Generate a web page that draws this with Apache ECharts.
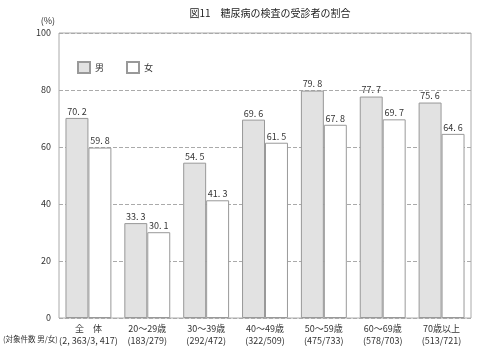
<!DOCTYPE html>
<html><head><meta charset="utf-8">
<script src="https://cdn.jsdelivr.net/npm/echarts@6/dist/echarts.min.js"></script>
<style>html,body{margin:0;padding:0;background:#fff}#c{width:483px;height:352px}</style>
</head><body><div id="c"></div>
<script>
const categories = ['全　体', '20～29歳', '30～39歳', '40～49歳', '50～59歳', '60～69歳', '70歳以上'];
const counts = ['(2, 363/3, 417)', '(183/279)', '(292/472)', '(322/509)', '(475/733)', '(578/703)', '(513/721)'];
const male = [70.2, 33.3, 54.5, 69.6, 79.8, 77.7, 75.6];
const female = [59.8, 30.1, 41.3, 61.5, 67.8, 69.7, 64.6];
const yTicks = [0, 20, 40, 60, 80, 100];

const F = '"Noto Sans CJK JP", sans-serif';
const chart = echarts.init(document.getElementById('c'));
const lbl = {show: true, position: 'top', distance: 2, fontSize: 9, color: '#333', fontFamily: F,
  formatter: p => p.value.toFixed(1).replace('.', '. ')};
chart.setOption({
  animation: false,
  title: {text: '図11　糖尿病の検査の受診者の割合', left: 265, top: 3, textAlign: 'center',
    textStyle: {fontSize: 10, fontWeight: 'normal', color: '#222', fontFamily: F}},
  legend: {left: 72, top: 56, itemWidth: 12, itemHeight: 11, itemGap: 22, icon: 'rect',
    textStyle: {fontSize: 9, color: '#333', fontFamily: F},
    data: ['男', '女']},
  grid: {left: 59, right: 12, top: 33, bottom: 34, show: true, borderColor: '#aaa', borderWidth: 1},
  xAxis: {type: 'category', data: categories,
    axisLine: {show: false}, axisTick: {show: false},
    axisLabel: {interval: 0, fontSize: 9, color: '#333', fontFamily: F, margin: 5, lineHeight: 12,
      formatter: (v, i) => v + '\n' + counts[i]}},
  yAxis: {type: 'value', min: yTicks[0], max: yTicks[yTicks.length - 1], interval: 20,
    name: '(%)', nameLocation: 'end', nameGap: 8,
    nameTextStyle: {fontSize: 9, color: '#333', fontFamily: F, align: 'right', padding: [0, 4, 0, 0]},
    axisLine: {show: false}, axisTick: {show: false},
    axisLabel: {fontSize: 9, color: '#333', fontFamily: F, margin: 8},
    splitLine: {lineStyle: {type: 'dashed', color: '#aaa', width: 1}}},
  graphic: [{type: 'text', x: 3, y: 335,
    style: {text: '(対象件数 男/女)', fontSize: 7.5, fill: '#333', fontFamily: F}}],
  series: [
    {name: '男', type: 'bar', data: male, barGap: '0%', barCategoryGap: '22%',
      itemStyle: {color: '#e2e2e2', borderColor: '#999', borderWidth: 1}, label: lbl},
    {name: '女', type: 'bar', data: female,
      itemStyle: {color: '#ffffff', borderColor: '#999', borderWidth: 1}, label: lbl}
  ]
});
</script></body></html>
